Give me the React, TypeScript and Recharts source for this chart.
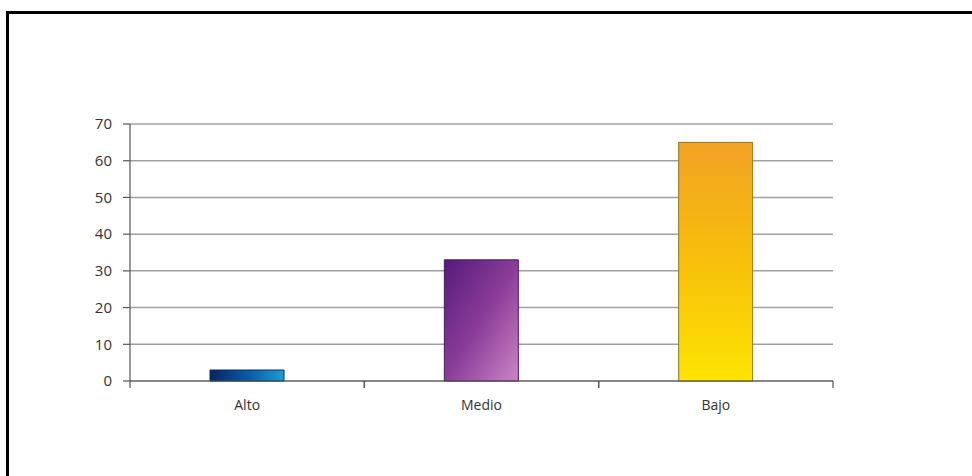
import { BarChart, Bar, XAxis, YAxis, CartesianGrid, Cell } from "recharts";

const categories = ["Alto", "Medio", "Bajo"];
const values = [3, 33, 65];
const yTicks = [0, 10, 20, 30, 40, 50, 60, 70];

const data = categories.map((name, i) => ({ name, value: values[i] }));

const fills = ["url(#gAlto)", "url(#gMedio)", "url(#gBajo)"];
const strokes = ["#0b2f6b", "#4a1a60", "#8a7a20"];

const CategoryTick = (props: any) => {
  const { x, y, payload } = props;
  const half = payload.offset || 0;
  return (
    <g>
      <line x1={x - half} x2={x - half} y1={y - 8} y2={y - 1} stroke="#555" strokeWidth={1.2} />
      <line x1={x + half} x2={x + half} y1={y - 8} y2={y - 1} stroke="#555" strokeWidth={1.2} />
      <text x={x} y={y + 21} textAnchor="middle" fill="#333" fontSize={14}>
        {payload.value}
      </text>
    </g>
  );
};

export default function App() {
  return (
    <div style={{ position: "fixed", left: 0, top: 0, width: 972, height: 476, background: "#fff" }}>
      <div
        style={{
          position: "absolute",
          left: 6,
          top: 11,
          right: 0,
          bottom: 0,
          borderTop: "3px solid #000",
          borderLeft: "3px solid #000",
        }}
      />
      <div style={{ position: "absolute", left: 0, top: 0 }}>
        <BarChart
          width={972}
          height={476}
          data={data}
          margin={{ top: 124, right: 139, bottom: 0, left: 0 }}
          style={{ fontFamily: "'Open Sans', sans-serif" }}
        >
          <defs>
            <linearGradient id="gAlto" x1="0" y1="0" x2="1" y2="0">
              <stop offset="0%" stopColor="#0a2460" />
              <stop offset="55%" stopColor="#0a5eac" />
              <stop offset="100%" stopColor="#1aa0d0" />
            </linearGradient>
            <linearGradient id="gMedio" x1="0" y1="0" x2="1" y2="1">
              <stop offset="0%" stopColor="#561a7c" />
              <stop offset="50%" stopColor="#8a3c98" />
              <stop offset="100%" stopColor="#cc86c4" />
            </linearGradient>
            <linearGradient id="gBajo" x1="0" y1="0" x2="0" y2="1">
              <stop offset="0%" stopColor="#f2a226" />
              <stop offset="45%" stopColor="#f7bc0c" />
              <stop offset="100%" stopColor="#fde402" />
            </linearGradient>
          </defs>
          <CartesianGrid vertical={false} stroke="#a0a0a0" strokeWidth={1.5} />
          <XAxis
            dataKey="name"
            axisLine={{ stroke: "#555", strokeWidth: 1.2 }}
            tickLine={false}
            tick={<CategoryTick />}
            interval={0}
            height={95}
          />
          <YAxis
            domain={[0, 70]}
            ticks={yTicks}
            width={130}
            axisLine={{ stroke: "#555", strokeWidth: 1.2 }}
            tickLine={{ stroke: "#555", strokeWidth: 1.2 }}
            tickSize={7}
            tickMargin={11}
            tick={{ fill: "#333", fontSize: 15 }}
          />
          <Bar dataKey="value" barSize={74} isAnimationActive={false}>
            {data.map((d, i) => (
              <Cell key={d.name} fill={fills[i]} stroke={strokes[i]} strokeWidth={1} />
            ))}
          </Bar>
        </BarChart>
      </div>
    </div>
  );
}
